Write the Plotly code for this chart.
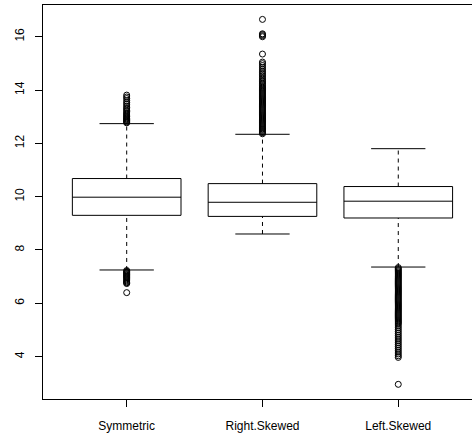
import plotly.graph_objects as go

# Category labels and their axis positions
categories = ["Symmetric", "Right.Skewed", "Left.Skewed"]
positions = [1, 2, 3]

# Five-number summaries (lower whisker, Q1, median, Q3, upper whisker)
lower_whisker = [7.25, 8.60, 7.36]
q1 = [9.30, 9.26, 9.20]
median = [9.98, 9.79, 9.83]
q3 = [10.68, 10.49, 10.38]
upper_whisker = [12.74, 12.34, 11.80]

# Outlying observations per group
outliers_symmetric = [
    12.77, 12.80, 12.83, 12.86, 12.89, 12.92, 12.95, 12.99, 13.02, 13.06,
    13.10, 13.14, 13.19, 13.24, 13.29, 13.34, 13.40, 13.47, 13.53, 13.60,
    13.68, 13.74, 13.81,
    7.23, 7.20, 7.17, 7.14, 7.11, 7.08, 7.05, 7.02, 6.99, 6.96,
    6.92, 6.88, 6.84, 6.80, 6.77, 6.74, 6.40,
]
outliers_right = [
    12.36, 12.40, 12.44, 12.48, 12.52, 12.55, 12.59, 12.63, 12.67, 12.71,
    12.75, 12.79, 12.83, 12.87, 12.91, 12.95, 12.99, 13.03, 13.07, 13.11,
    13.15, 13.19, 13.23, 13.27, 13.31, 13.35, 13.39, 13.43, 13.47, 13.51,
    13.55, 13.59, 13.63, 13.67, 13.71, 13.75, 13.79, 13.83, 13.87, 13.91,
    13.95, 13.99, 14.03, 14.07, 14.11, 14.16, 14.21, 14.26, 14.31, 14.36,
    14.41, 14.47, 14.53, 14.59, 14.65, 14.71, 14.78, 14.85, 14.92, 14.99,
    15.05, 15.35, 16.00, 16.04, 16.08, 16.11, 16.65,
]
outliers_left = [
    7.34, 7.30, 7.26, 7.22, 7.18, 7.14, 7.10, 7.06, 7.02, 6.98,
    6.94, 6.90, 6.86, 6.82, 6.78, 6.74, 6.70, 6.66, 6.62, 6.58,
    6.54, 6.50, 6.46, 6.42, 6.38, 6.34, 6.30, 6.26, 6.22, 6.18,
    6.14, 6.10, 6.06, 6.02, 5.98, 5.94, 5.90, 5.86, 5.82, 5.78,
    5.74, 5.70, 5.66, 5.62, 5.58, 5.54, 5.50, 5.46, 5.42, 5.38,
    5.34, 5.30, 5.26, 5.22, 5.15, 5.08, 5.01, 4.94, 4.87, 4.80,
    4.73, 4.66, 4.59, 4.52, 4.45, 4.38, 4.31, 4.24, 4.17, 4.10,
    4.03, 3.97, 2.96,
]
outliers = [outliers_symmetric, outliers_right, outliers_left]

# Axis ticks
y_ticks = [4, 6, 8, 10, 12, 14, 16]

BOX_WIDTH = 0.8
STAPLE_HALF = BOX_WIDTH / 4
INK = "black"

fig = go.Figure()

for i, pos in enumerate(positions):
    # dashed whiskers from box edges to the staples
    for lo, hi in ((lower_whisker[i], q1[i]), (q3[i], upper_whisker[i])):
        fig.add_trace(go.Scatter(
            x=[pos, pos], y=[lo, hi], mode="lines",
            line=dict(color=INK, width=1, dash="4px,4px"),
            hoverinfo="skip", showlegend=False,
        ))
    # staples at the whisker ends
    for w in (lower_whisker[i], upper_whisker[i]):
        fig.add_trace(go.Scatter(
            x=[pos - STAPLE_HALF, pos + STAPLE_HALF], y=[w, w], mode="lines",
            line=dict(color=INK, width=1),
            hoverinfo="skip", showlegend=False,
        ))
    # box with median
    fig.add_trace(go.Box(
        x=[pos], q1=[q1[i]], median=[median[i]], q3=[q3[i]],
        lowerfence=[q1[i]], upperfence=[q3[i]],
        width=BOX_WIDTH, whiskerwidth=0, boxpoints=False,
        fillcolor="white", line=dict(color=INK, width=1),
        hoverinfo="skip", showlegend=False,
    ))

for i, pos in enumerate(positions):
    fig.add_trace(go.Scatter(
        x=[pos] * len(outliers[i]), y=outliers[i], mode="markers",
        marker=dict(symbol="circle-open", size=6, color=INK,
                    line=dict(width=1, color=INK)),
        hoverinfo="skip", showlegend=False,
    ))

font = dict(family="Liberation Sans, Arial, sans-serif", size=12, color="black")

fig.update_layout(
    width=472, height=439,
    margin=dict(l=43, r=0, t=5, b=40, pad=0),
    plot_bgcolor="white", paper_bgcolor="white",
    boxmode="overlay",
    font=font,
    xaxis=dict(
        range=[0.3837, 3.543],
        tickvals=positions, ticktext=categories,
        ticks="outside", ticklen=7, tickcolor=INK, tickwidth=1,
        showline=True, linecolor=INK, linewidth=1, mirror=True,
        showgrid=False, zeroline=False, ticklabelstandoff=9,
        tickfont=font,
    ),
    yaxis=dict(
        range=[2.41, 17.19],
        tickvals=y_ticks, ticktext=[str(v) for v in y_ticks],
        ticks="outside", ticklen=7, tickcolor=INK, tickwidth=1,
        tickangle=-90,
        showline=True, linecolor=INK, linewidth=1,
        showgrid=False, zeroline=False, ticklabelstandoff=6,
        tickfont=font,
    ),
)

fig.write_html("out.html")
